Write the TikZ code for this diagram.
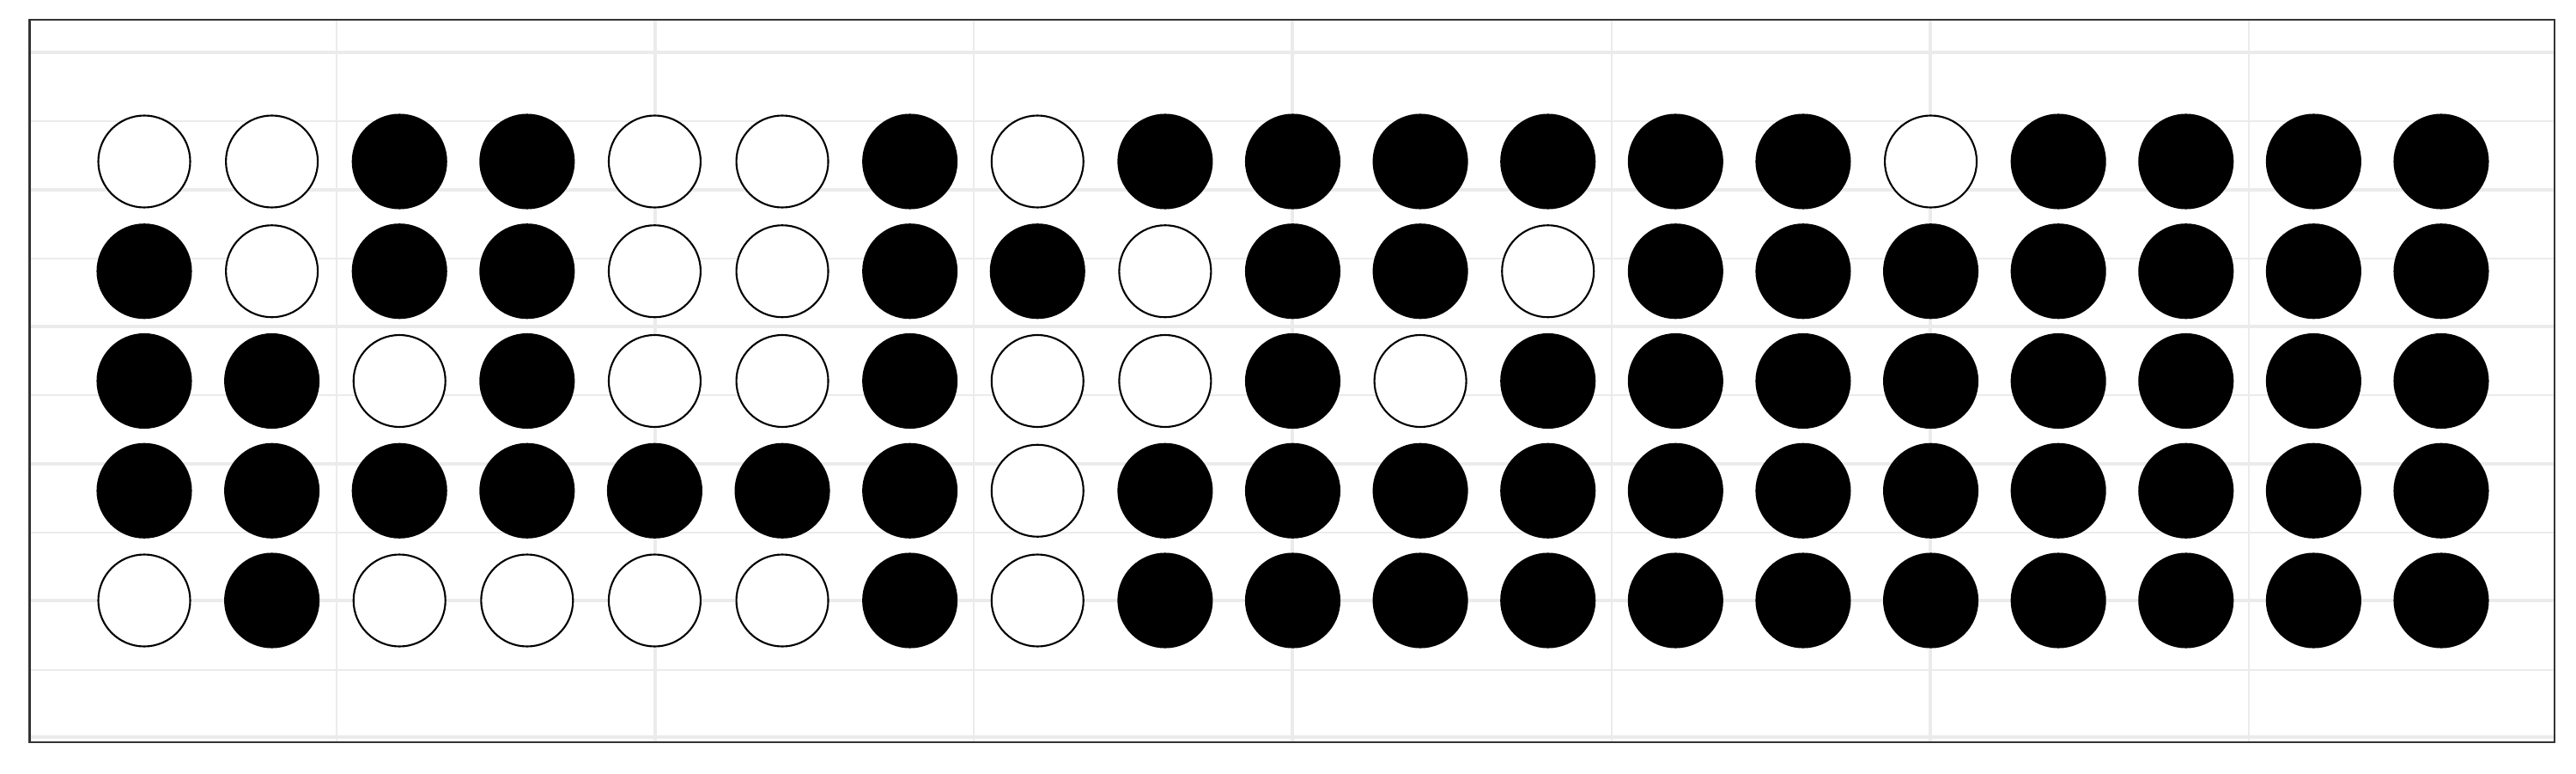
\documentclass[tikz,border=0pt]{standalone}
\definecolor{gridgray}{HTML}{EBEBEB}
\definecolor{framegray}{HTML}{333333}
\begin{document}
\begin{tikzpicture}
		\tikzset{dot0/.style = {shape=circle,draw,line width=0.6pt,fill=white,minimum size=1.07cm,inner sep=0pt}}
		\tikzset{dot1/.style = {shape=circle,draw,line width=0.6pt,fill=black,minimum size=1.09cm,inner sep=0pt}}
		\tikzset{major/.style = {draw=gridgray,line width=0.95pt}}
		\tikzset{minor/.style = {draw=gridgray,line width=0.55pt}}
		\useasboundingbox (0,0) rectangle (30,9);
		% grid
		\foreach \y in {7.59,5.99,4.40,2.80,1.20} \draw[minor] (0.345,\y) -- (29.75,\y);
		\foreach \x in {3.92,11.34,18.77,26.19} \draw[minor] (\x,0.36) -- (\x,8.77);
		\foreach \y in {8.39,6.79,5.20,3.60,2.01,0.42} \draw[major] (0.345,\y) -- (29.75,\y);
		\foreach \x in {7.63,15.05,22.48} \draw[major] (\x,0.36) -- (\x,8.77);
		\draw[framegray,line width=0.6pt] (0.345,0.36) rectangle (29.75,8.77);
		% dots, row by row (1 = filled)
		\foreach \pat [count=\r] in {
			{0,0,1,1,0,0,1,0,1,1,1,1,1,1,0,1,1,1,1},
			{1,0,1,1,0,0,1,1,0,1,1,0,1,1,1,1,1,1,1},
			{1,1,0,1,0,0,1,0,0,1,0,1,1,1,1,1,1,1,1},
			{1,1,1,1,1,1,1,0,1,1,1,1,1,1,1,1,1,1,1},
			{0,1,0,0,0,0,1,0,1,1,1,1,1,1,1,1,1,1,1}}
			\foreach \f [count=\c] in \pat
				\node[dot\f] (d-\r-\c) at ({1.68+(\c-1)*1.4861},{7.12-(\r-1)*1.2775}) {};
	\end{tikzpicture}
\end{document}
